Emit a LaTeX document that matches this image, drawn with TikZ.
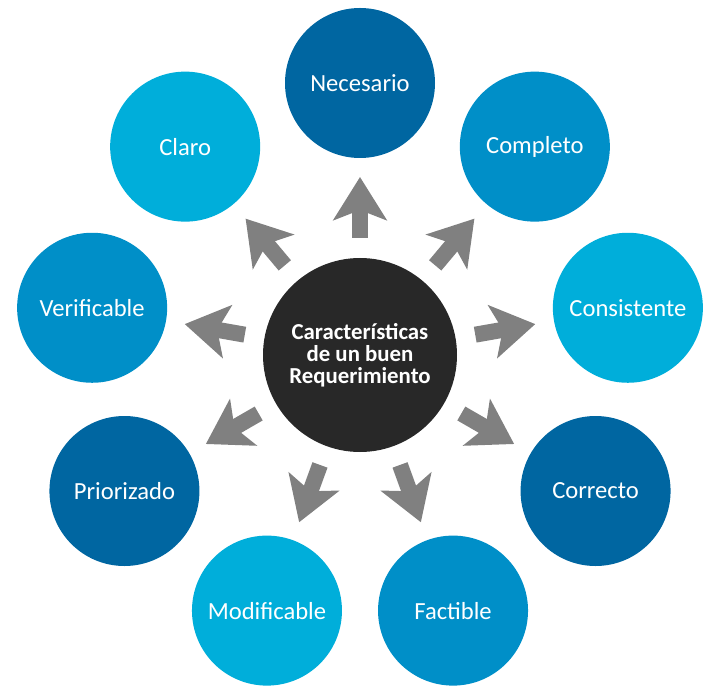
\documentclass[tikz,border=0pt]{standalone}
\usepackage{fontspec}
\setmainfont{Carlito}
\usetikzlibrary{arrows.meta}
\definecolor{azulosc}{HTML}{0066A1}
\definecolor{azulmed}{HTML}{008FC8}
\definecolor{azulcla}{HTML}{00AEDA}
\definecolor{negro}{HTML}{282828}
\definecolor{gris}{HTML}{808080}
\newcommand{\qnode}[4]{\node(#1)[item,fill=#2] at (#3:5.44) {#4}}
\newcommand{\qarrow}[1]{\draw[flecha] (centro) -- (#1)}

\begin{document}
\begin{tikzpicture}[
        every node/.style={font=\fontsize{14}{16}\selectfont},
        item/.style={circle,minimum size=3cm,inner sep=0pt,outer sep=0pt,text=white},
        core/.style={circle,minimum size=3.88cm,inner sep=0pt,outer sep=0pt,
                     fill=negro,text=white,align=center,
                     font=\bfseries\fontsize{13}{12.5}\selectfont},
        flecha/.style={draw=gris,line width=0.32cm,shorten <=0.4cm,shorten >=0.38cm,
                       -{Stealth[length=0.86cm,width=1.06cm,inset=0.2cm]}}
      ]
      \useasboundingbox (-7.2,-6.76) rectangle (6.9,7.1);
      \node(centro)[core] at (0,0) {Características\\de un buen\\Requerimiento};

      \qnode{necesario}{azulosc}{90}{Necesario};
      \qnode{claro}{azulcla}{130}{Claro};
      \qnode{verificable}{azulmed}{170}{Verificable};
      \qnode{priorizado}{azulosc}{210}{Priorizado};
      \qnode{modificable}{azulcla}{250}{Modificable};
      \qnode{factible}{azulmed}{290}{Factible};
      \qnode{correcto}{azulosc}{330}{Correcto};
      \qnode{consistente}{azulcla}{10}{Consistente};
      \qnode{completo}{azulmed}{50}{Completo};

      \qarrow{necesario}; \qarrow{claro}; \qarrow{verificable};
      \qarrow{priorizado}; \qarrow{modificable}; \qarrow{factible};
      \qarrow{correcto}; \qarrow{consistente}; \qarrow{completo};
    \end{tikzpicture}
\end{document}
